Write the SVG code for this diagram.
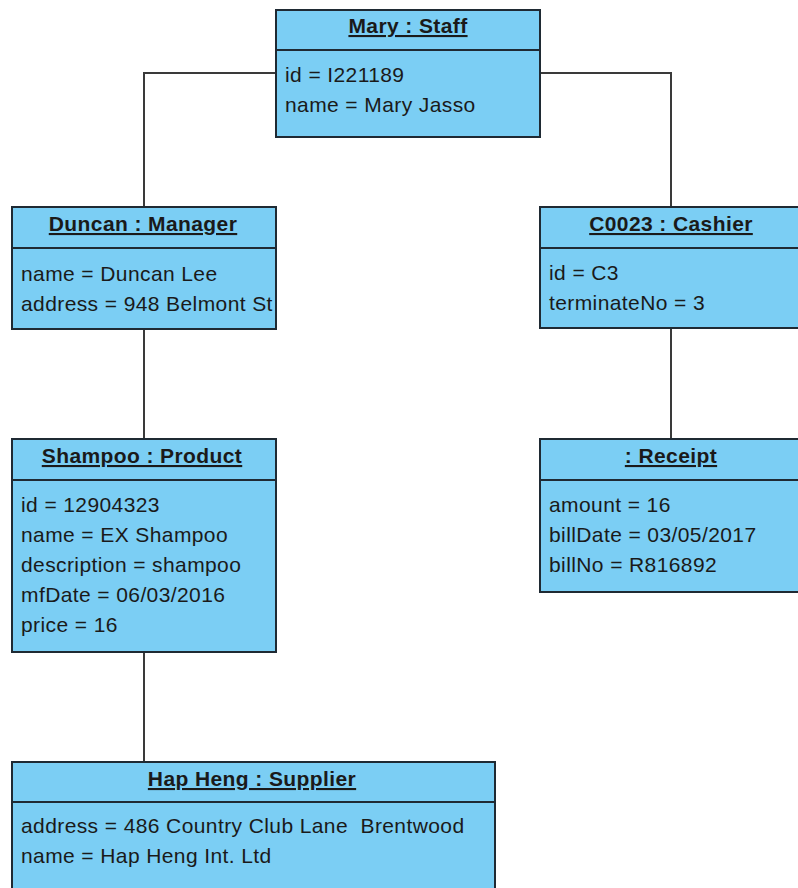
<svg xmlns="http://www.w3.org/2000/svg" width="798" height="888" viewBox="0 0 798 888">
<style>
.box{fill:#7bcef4;stroke:#1f2a33;stroke-width:2}
.sep{stroke:#1f2a33;stroke-width:2}
.title{font-family:"Liberation Sans",Arial,sans-serif;font-size:21px;font-weight:bold;letter-spacing:0.4px;fill:#1a1a1a;text-anchor:middle;text-decoration:underline}
.attr{font-family:"Liberation Sans",Arial,sans-serif;font-size:21px;letter-spacing:0.4px;fill:#1a1a1a;white-space:pre}
.conn{fill:none;stroke:#3a3a3a;stroke-width:2}
</style>
<defs>
<clipPath id="clipDuncan"><rect x="12" y="207" width="263" height="122"/></clipPath>
</defs>
<rect width="798" height="888" fill="#ffffff"/>
<g id="connectors">
<polyline class="conn" points="276,73 144,73 144,207"/>
<polyline class="conn" points="540,73 671,73 671,207"/>
<line class="conn" x1="144" y1="329" x2="144" y2="439"/>
<line class="conn" x1="671" y1="328" x2="671" y2="439"/>
<line class="conn" x1="144" y1="652" x2="144" y2="762"/>
</g>
<g id="mary">
<rect class="box" x="276" y="10" width="264" height="127"/>
<line class="sep" x1="276" y1="50" x2="540" y2="50"/>
<text class="title" x="408" y="33">Mary : Staff</text>
<text class="attr" x="285" y="82">id = I221189</text>
<text class="attr" x="285" y="112">name = Mary Jasso</text>
</g>
<g id="duncan">
<rect class="box" x="12" y="207" width="264" height="122"/>
<line class="sep" x1="12" y1="248" x2="276" y2="248"/>
<text class="title" x="143" y="231">Duncan : Manager</text>
<g clip-path="url(#clipDuncan)">
<text class="attr" x="21" y="281">name = Duncan Lee</text>
<text class="attr" x="21" y="311" letter-spacing="0.55">address = 948 Belmont St</text>
</g>
</g>
<g id="cashier">
<rect class="box" x="540" y="207" width="264" height="121"/>
<line class="sep" x1="540" y1="248" x2="804" y2="248"/>
<text class="title" x="671" y="231">C0023 : Cashier</text>
<text class="attr" x="549" y="280">id = C3</text>
<text class="attr" x="549" y="310">terminateNo = 3</text>
</g>
<g id="shampoo">
<rect class="box" x="12" y="439" width="264" height="213"/>
<line class="sep" x1="12" y1="480" x2="276" y2="480"/>
<text class="title" x="142" y="463">Shampoo : Product</text>
<text class="attr" x="21" y="512">id = 12904323</text>
<text class="attr" x="21" y="542">name = EX Shampoo</text>
<text class="attr" x="21" y="572">description = shampoo</text>
<text class="attr" x="21" y="602">mfDate = 06/03/2016</text>
<text class="attr" x="21" y="632">price = 16</text>
</g>
<g id="receipt">
<rect class="box" x="540" y="439" width="264" height="153"/>
<line class="sep" x1="540" y1="480" x2="804" y2="480"/>
<text class="title" x="671" y="463">: Receipt</text>
<text class="attr" x="549" y="512">amount = 16</text>
<text class="attr" x="549" y="542">billDate = 03/05/2017</text>
<text class="attr" x="549" y="572">billNo = R816892</text>
</g>
<g id="supplier">
<rect class="box" x="12" y="762" width="483" height="140"/>
<line class="sep" x1="12" y1="802" x2="495" y2="802"/>
<text class="title" x="252" y="786">Hap Heng : Supplier</text>
<text class="attr" x="21" y="833" xml:space="preserve">address = 486 Country Club Lane  Brentwood</text>
<text class="attr" x="21" y="863">name = Hap Heng Int. Ltd</text>
</g>
</svg>
